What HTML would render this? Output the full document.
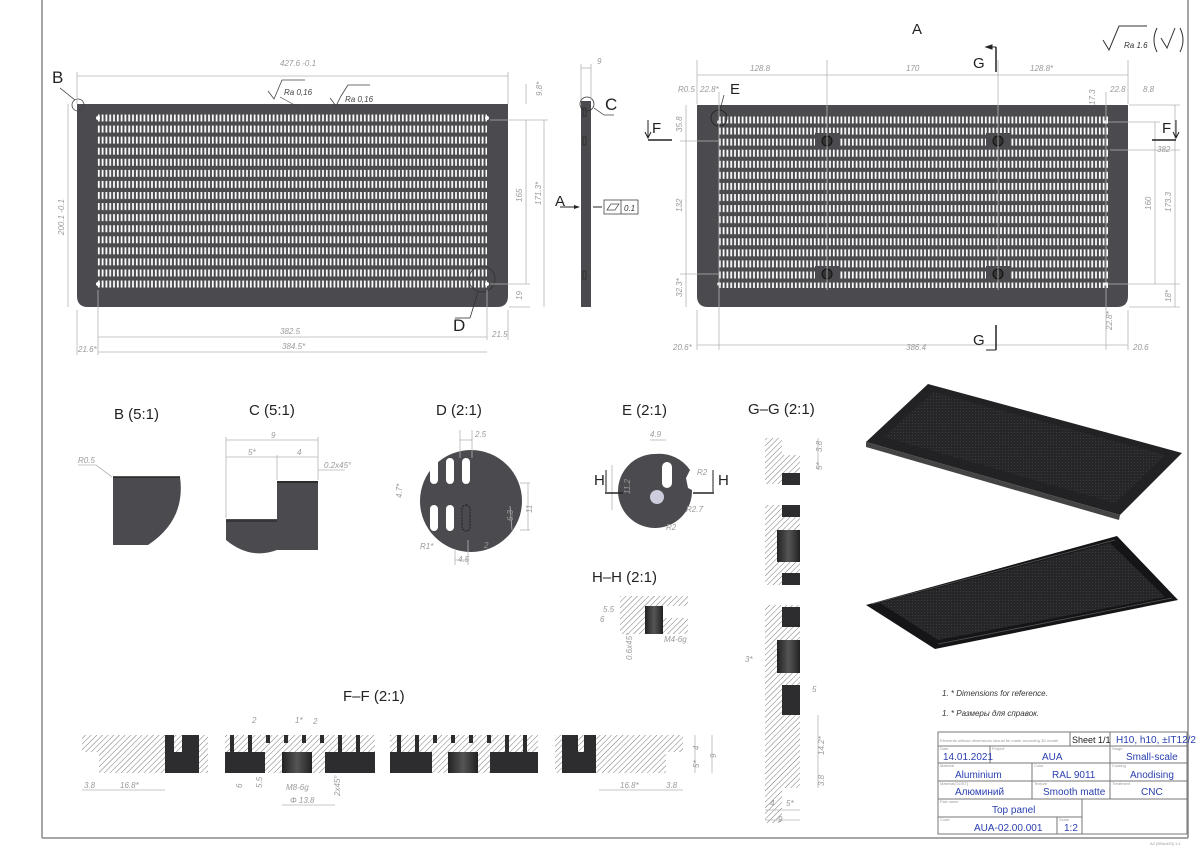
<!DOCTYPE html>
<html><head><meta charset="utf-8"><style>
html,body{margin:0;padding:0;background:#fff;}
svg{display:block;}
.d{stroke:#b4b4b4;stroke-width:0.8;fill:none;}
.t{font-family:"Liberation Sans",sans-serif;font-style:italic;font-size:8px;fill:#9a9a9a;}
.L{font-family:"Liberation Sans",sans-serif;font-size:17px;fill:#222;}
.H{font-family:"Liberation Sans",sans-serif;font-size:15px;fill:#222;}
.b{font-family:"Liberation Sans",sans-serif;font-size:10px;fill:#2a3fb0;}
.s{font-family:"Liberation Sans",sans-serif;font-size:4px;fill:#999;}
</style></head><body>
<svg width="1200" height="848" viewBox="0 0 1200 848" xmlns="http://www.w3.org/2000/svg">
<defs>
<pattern id="sl" patternUnits="userSpaceOnUse" x="97" y="114" width="3.8" height="11.07"><rect x="0.9" y="0.5" width="1.8" height="7" fill="#fff"/></pattern>
<pattern id="sr" patternUnits="userSpaceOnUse" x="718" y="116" width="3.8" height="11.07"><rect x="0.9" y="0.5" width="1.8" height="7" fill="#fff"/></pattern>
<pattern id="ht" patternUnits="userSpaceOnUse" width="4" height="4" patternTransform="rotate(45)"><rect width="4" height="4" fill="#fff"/><line x1="0" y1="0" x2="0" y2="4" stroke="#555" stroke-width="0.8"/></pattern>
<pattern id="dots" patternUnits="userSpaceOnUse" width="3" height="3"><rect width="3" height="3" fill="#262628"/><rect width="1" height="1" fill="#3c3c40"/></pattern>
<linearGradient id="cy" x1="0" x2="1"><stop offset="0" stop-color="#222"/><stop offset="0.5" stop-color="#555"/><stop offset="1" stop-color="#222"/></linearGradient>
</defs>
<!-- frame -->
<line x1="42" y1="0" x2="42" y2="838" stroke="#888" stroke-width="1.5"/>
<line x1="42" y1="838" x2="1188" y2="838" stroke="#888" stroke-width="1.5"/>
<line x1="1188" y1="0" x2="1188" y2="838" stroke="#888" stroke-width="1.5"/>
<text x="1150" y="845" class="s">A2 (594x420) 1:1</text>

<!-- LEFT VIEW -->
<path d="M77,104 H508 V296 Q508,307 497,307 H88 Q77,307 77,296 Z" fill="#4a4a4f"/>
<rect x="97" y="114" width="390" height="174" fill="url(#sl)"/>
<circle cx="98" cy="118" r="2" fill="#fff"/><circle cx="487" cy="118" r="2" fill="#fff"/>
<circle cx="98" cy="284" r="2" fill="#fff"/><circle cx="487" cy="284" r="2" fill="#fff"/>
<circle cx="78" cy="105" r="6" fill="none" stroke="#444" stroke-width="0.8"/>
<circle cx="482" cy="279" r="13" fill="none" stroke="#333" stroke-width="0.8"/>
<line x1="478" y1="292" x2="470" y2="318" stroke="#333" stroke-width="0.8"/><line x1="455" y1="318" x2="470" y2="318" stroke="#333" stroke-width="0.8"/>
<text x="52" y="83" class="L">B</text>
<text x="453" y="331" class="L">D</text>
<line x1="60" y1="88" x2="75" y2="100" stroke="#333" stroke-width="0.8"/>
<g class="d">
<line x1="77" y1="76" x2="508" y2="76"/><line x1="77" y1="72" x2="77" y2="104"/><line x1="508" y1="72" x2="508" y2="104"/>
<line x1="98" y1="337" x2="487" y2="337"/><line x1="98" y1="290" x2="98" y2="355"/><line x1="487" y1="290" x2="487" y2="340"/>
<line x1="98" y1="352" x2="487" y2="352"/><line x1="77" y1="310" x2="77" y2="355"/><line x1="508" y1="310" x2="508" y2="340"/>
<line x1="68" y1="104" x2="68" y2="307"/><line x1="509" y1="307" x2="530" y2="307"/>
<line x1="526" y1="84" x2="526" y2="104"/><line x1="526" y1="120" x2="526" y2="284"/><line x1="544" y1="120" x2="544" y2="307"/>
<line x1="490" y1="120" x2="548" y2="120"/><line x1="490" y1="284" x2="530" y2="284"/>
</g>
<text x="280" y="66" class="t">427.6 -0.1</text>
<text x="280" y="334" class="t">382.5</text>
<text x="282" y="349" class="t">384.5*</text>
<text x="78" y="352" class="t">21.6*</text>
<text x="492" y="337" class="t">21.5</text>
<text transform="translate(64,235) rotate(-90)" class="t">200.1 -0.1</text>
<text transform="translate(542,96) rotate(-90)" class="t">9.8*</text>
<text transform="translate(522,202) rotate(-90)" class="t">165</text>
<text transform="translate(541,205) rotate(-90)" class="t">171.3*</text>
<text transform="translate(522,300) rotate(-90)" class="t">19</text>
<path d="M268,91 L274,99 L282,80 H305" fill="none" stroke="#444" stroke-width="0.8"/>
<text x="284" y="95" class="t" style="fill:#444">Ra 0,16</text>
<line x1="280" y1="97" x2="300" y2="108" stroke="#444" stroke-width="0.6"/>
<path d="M330,98 L336,106 L341,96 L348,85 H370" fill="none" stroke="#444" stroke-width="0.8"/>
<text x="345" y="102" class="t" style="fill:#444">Ra 0,16</text>

<!-- SIDE VIEW -->
<rect x="581" y="101" width="10" height="206" fill="#4a4a4f"/>
<rect x="583" y="108" width="3" height="8" fill="none" stroke="#222" stroke-width="0.6"/>
<rect x="583" y="137" width="3" height="8" fill="none" stroke="#222" stroke-width="0.6"/>
<rect x="583" y="271" width="3" height="8" fill="none" stroke="#222" stroke-width="0.6"/>
<circle cx="587" cy="104" r="7" fill="none" stroke="#333" stroke-width="0.8"/>
<line x1="594" y1="108" x2="604" y2="115" stroke="#333" stroke-width="0.7"/><line x1="604" y1="115" x2="614" y2="115" stroke="#333" stroke-width="0.7"/>
<text x="605" y="110" class="L">C</text>
<g class="d"><line x1="581" y1="68" x2="591" y2="68"/><line x1="581" y1="64" x2="581" y2="100"/><line x1="591" y1="64" x2="591" y2="100"/></g>
<text x="597" y="64" class="t">9</text>
<text x="555" y="206" class="H">A</text>
<line x1="560" y1="207" x2="578" y2="207" stroke="#222"/><path d="M580,207 l-6,-2 v4z" fill="#222"/>
<line x1="593" y1="207" x2="602" y2="207" stroke="#222"/>
<rect x="604" y="200" width="34" height="14" fill="none" stroke="#444" stroke-width="0.8"/><line x1="621" y1="200" x2="621" y2="214" stroke="#444" stroke-width="0.8"/>
<path d="M607,210 l4,-6 h8 l-4,6z" fill="none" stroke="#444" stroke-width="0.7"/>
<text x="624" y="211" class="t" style="fill:#333">0.1</text>

<!-- RIGHT VIEW -->
<path d="M697,105 H1128 V296 Q1128,307 1117,307 H708 Q697,307 697,296 Z" fill="#4a4a4f"/>
<rect x="718" y="116" width="390" height="172" fill="url(#sr)"/>
<g fill="#4a4a4f"><rect x="815" y="133" width="25" height="16"/><rect x="986" y="133" width="25" height="16"/><rect x="815" y="266" width="25" height="16"/><rect x="986" y="266" width="25" height="16"/></g>
<g fill="#333" stroke="#111" stroke-width="1"><circle cx="827" cy="141" r="5"/><circle cx="998" cy="141" r="5"/><circle cx="827" cy="274" r="5"/><circle cx="998" cy="274" r="5"/></g>
<g fill="#fff"><circle cx="719" cy="122" r="1.8"/><circle cx="1106" cy="122" r="1.8"/><circle cx="719" cy="284" r="1.8"/><circle cx="1106" cy="284" r="1.8"/></g>
<circle cx="719" cy="118" r="8" fill="none" stroke="#222" stroke-width="0.8"/>
<g class="d">
<line x1="827" y1="60" x2="827" y2="290"/><line x1="998" y1="60" x2="998" y2="290"/>
<line x1="697" y1="75" x2="1128" y2="75"/><line x1="697" y1="60" x2="697" y2="104"/><line x1="1128" y1="60" x2="1128" y2="104"/>
<line x1="719" y1="92" x2="719" y2="350"/><line x1="1106" y1="92" x2="1106" y2="350"/>
<line x1="697" y1="345" x2="1128" y2="345"/><line x1="697" y1="310" x2="697" y2="350"/><line x1="1128" y1="310" x2="1128" y2="350"/>
<line x1="686" y1="105" x2="686" y2="307"/><line x1="680" y1="141" x2="720" y2="141"/><line x1="680" y1="274" x2="720" y2="274"/>
<line x1="1155" y1="122" x2="1155" y2="284"/><line x1="1175" y1="105" x2="1175" y2="307"/><line x1="1108" y1="284" x2="1180" y2="284"/><line x1="1108" y1="122" x2="1160" y2="122"/>
<line x1="1129" y1="105" x2="1180" y2="105"/><line x1="1129" y1="307" x2="1180" y2="307"/>
<line x1="1110" y1="150" x2="1180" y2="150"/>
</g>
<text x="750" y="71" class="t">128.8</text><text x="906" y="71" class="t">170</text><text x="1030" y="71" class="t">128.8*</text>
<text x="678" y="92" class="t">R0.5</text><text x="700" y="92" class="t">22.8*</text><text x="1110" y="92" class="t">22.8</text><text x="1143" y="92" class="t">8.8</text>
<text x="1157" y="152" class="t">382</text>
<text transform="translate(1151,210) rotate(-90)" class="t">160</text>
<text transform="translate(1171,212) rotate(-90)" class="t">173.3</text>
<text transform="translate(1171,302) rotate(-90)" class="t">18*</text>
<text transform="translate(1095,105) rotate(-90)" class="t">17.3</text>
<text transform="translate(682,132) rotate(-90)" class="t">35.8</text>
<text transform="translate(682,212) rotate(-90)" class="t">132</text>
<text transform="translate(682,297) rotate(-90)" class="t">32.3*</text>
<text transform="translate(1112,330) rotate(-90)" class="t">22.8*</text>
<text x="673" y="350" class="t">20.6*</text><text x="906" y="350" class="t">386.4</text><text x="1133" y="350" class="t">20.6</text>
<text x="912" y="34" class="H">A</text>
<text x="730" y="94" class="H">E</text>
<line x1="724" y1="95" x2="720" y2="110" stroke="#333" stroke-width="0.7"/>
<text x="652" y="133" class="H">F</text><path d="M648,120 v18 M645,132 l3,6 l3,-6" stroke="#222" fill="none"/><line x1="648" y1="140" x2="672" y2="140" stroke="#222" stroke-width="1.5"/>
<text x="1162" y="133" class="H">F</text><path d="M1176,120 v18 M1173,132 l3,6 l3,-6" stroke="#222" fill="none"/><line x1="1152" y1="140" x2="1176" y2="140" stroke="#222" stroke-width="1.5"/>
<text x="973" y="68" class="H">G</text><line x1="996" y1="47" x2="996" y2="72" stroke="#222" stroke-width="1.5"/><path d="M986,47 h10 M986,47 l6,-2 v4z" stroke="#222" fill="#222"/>
<text x="973" y="345" class="H">G</text><line x1="996" y1="325" x2="996" y2="350" stroke="#222" stroke-width="1.5"/><path d="M986,350 h10" stroke="#222"/>
<!-- roughness -->
<path d="M1103,40 l6,10 l10,-24 h28" fill="none" stroke="#333" stroke-width="1"/>
<text x="1124" y="48" class="t" style="fill:#333">Ra 1.6</text>
<path d="M1157,28 q-6,12 0,24 M1180,28 q6,12 0,24" fill="none" stroke="#333" stroke-width="1"/>
<path d="M1161,38 l6,10 l8,-20" fill="none" stroke="#333" stroke-width="1"/>

<!-- DETAIL B -->
<text x="114" y="419" class="H">B (5:1)</text>
<path d="M113,477 H180 Q186,520 148,545 H113 Z" fill="#4a4a4f"/>
<line x1="113" y1="477" x2="180" y2="477" stroke="#222" stroke-width="1.5"/>
<line x1="78" y1="465" x2="96" y2="465" class="d"/><line x1="96" y1="465" x2="112" y2="477" class="d"/>
<text x="78" y="463" class="t">R0.5</text>
<!-- DETAIL C -->
<text x="249" y="415" class="H">C (5:1)</text>
<path d="M226,519 H277 V481 H318 V550 H277 Q250,560 226,540 Z" fill="#4a4a4f"/>
<line x1="226" y1="521" x2="277" y2="521" stroke="#222"/><line x1="277" y1="482" x2="318" y2="482" stroke="#222" stroke-width="1.5"/>
<g class="d"><line x1="226" y1="440" x2="318" y2="440"/><line x1="226" y1="457" x2="318" y2="457"/><line x1="226" y1="437" x2="226" y2="518"/><line x1="318" y1="437" x2="318" y2="480"/><line x1="277" y1="455" x2="277" y2="480"/><line x1="318" y1="470" x2="345" y2="470"/></g>
<text x="271" y="438" class="t">9</text><text x="248" y="455" class="t">5*</text><text x="297" y="455" class="t">4</text><text x="324" y="468" class="t">0.2x45°</text>
<!-- DETAIL D -->
<text x="436" y="415" class="H">D (2:1)</text>
<circle cx="471" cy="501" r="51" fill="#4a4a4f"/>
<g fill="#fff"><rect x="430" y="458" width="8" height="26" rx="4"/><rect x="446" y="458" width="8" height="26" rx="4"/><rect x="462" y="458" width="8" height="26" rx="4"/><rect x="430" y="505" width="8" height="26" rx="4"/><rect x="446" y="505" width="8" height="26" rx="4"/></g>
<rect x="462" y="505" width="8" height="26" rx="4" fill="none" stroke="#222" stroke-dasharray="2,1"/>
<g class="d"><line x1="460" y1="440" x2="472" y2="440"/><line x1="460" y1="430" x2="460" y2="458"/><line x1="472" y1="430" x2="472" y2="458"/><line x1="520" y1="483" x2="530" y2="483"/><line x1="520" y1="530" x2="530" y2="530"/><line x1="528" y1="483" x2="528" y2="530"/><line x1="510" y1="506" x2="512" y2="530"/><line x1="455" y1="550" x2="455" y2="565"/><line x1="468" y1="540" x2="468" y2="565"/><line x1="455" y1="560" x2="468" y2="560"/></g>
<text x="475" y="437" class="t">2.5</text><text x="420" y="549" class="t">R1*</text><text x="484" y="548" class="t">2</text><text x="458" y="562" class="t">4.5</text>
<text transform="translate(532,513) rotate(-90)" class="t">11</text><text transform="translate(513,521) rotate(-90)" class="t">6.3</text><text transform="translate(402,498) rotate(-90)" class="t">4.7*</text>
<!-- DETAIL E -->
<text x="622" y="415" class="H">E (2:1)</text>
<path d="M655,454 A37,37 0 1,0 692,490 L688,488 L686,478 L690,470 A37,37 0 0,0 655,454Z" fill="#4a4a4f"/>
<rect x="662" y="462" width="10" height="26" rx="5" fill="#fff"/>
<circle cx="657" cy="497" r="7" fill="#ccd"/>
<g class="d"><line x1="650" y1="440" x2="666" y2="440"/><line x1="612" y1="465" x2="612" y2="510"/></g>
<text x="650" y="437" class="t">4.9</text><text x="697" y="475" class="t">R2</text><text x="686" y="512" class="t">R2.7</text><text x="666" y="530" class="t">R2</text>
<text transform="translate(630,494) rotate(-90)" class="t">11.2</text>
<text x="594" y="485" class="H">H</text><path d="M606,470 v22" stroke="#222"/><line x1="605" y1="493" x2="623" y2="493" stroke="#222" stroke-width="1.5"/>
<text x="718" y="485" class="H">H</text><path d="M713,470 v22" stroke="#222"/><line x1="693" y1="493" x2="714" y2="493" stroke="#222" stroke-width="1.5"/>
<!-- H-H -->
<text x="592" y="582" class="H">H–H (2:1)</text>
<rect x="620" y="596" width="68" height="38" fill="url(#ht)"/>
<rect x="645" y="606" width="18" height="28" fill="url(#cy)"/>
<rect x="663" y="606" width="25" height="12" fill="#fff"/>
<text x="600" y="622" class="t">6</text><text x="603" y="612" class="t">5.5</text><text x="664" y="642" class="t">M4-6g</text>
<text transform="translate(632,660) rotate(-90)" class="t">0.6x45°</text>

<!-- G-G -->
<text x="748" y="414" class="H">G–G (2:1)</text>
<path d="M765,438 H782 V455 H800 V484 H765Z" fill="url(#ht)"/>
<rect x="782" y="473" width="18" height="12" fill="#2d2d30"/>
<path d="M765,505 H800 V585 H765Z" fill="url(#ht)"/>
<rect x="782" y="505" width="18" height="12" fill="#2d2d30"/><rect x="777" y="530" width="23" height="32" fill="url(#cy)"/><rect x="782" y="573" width="18" height="12" fill="#2d2d30"/>
<path d="M765,605 H800 V788 H782 V823 H765Z" fill="url(#ht)"/>
<rect x="782" y="607" width="18" height="20" fill="#2d2d30"/><rect x="777" y="640" width="23" height="33" fill="url(#cy)"/><rect x="782" y="685" width="18" height="30" fill="#2d2d30"/>
<g class="d"><line x1="765" y1="810" x2="800" y2="810"/><line x1="765" y1="820" x2="800" y2="820"/><line x1="818" y1="715" x2="818" y2="788"/><line x1="818" y1="438" x2="818" y2="470"/></g>
<text x="770" y="806" class="t">4</text><text x="786" y="806" class="t">5*</text><text x="778" y="822" class="t">9</text><text x="745" y="662" class="t">3*</text><text x="812" y="692" class="t">5</text>
<text transform="translate(824,755) rotate(-90)" class="t">14.2*</text><text transform="translate(824,786) rotate(-90)" class="t">3.8</text>
<text transform="translate(822,452) rotate(-90)" class="t">3.8</text><text transform="translate(822,470) rotate(-90)" class="t">5*</text>

<!-- F-F -->
<text x="343" y="701" class="H">F–F (2:1)</text>
<g>
<rect x="82" y="735" width="126" height="38" fill="url(#ht)"/><rect x="82" y="752" width="17" height="21" fill="#fff"/>
<rect x="165" y="735" width="34" height="38" fill="#2d2d30"/><rect x="174" y="735" width="8" height="17" fill="url(#ht)"/>
<rect x="225" y="735" width="150" height="38" fill="url(#ht)"/>
<rect x="225" y="752" width="40" height="21" fill="#2d2d30"/><rect x="325" y="752" width="50" height="21" fill="#2d2d30"/>
<rect x="282" y="752" width="30" height="21" fill="url(#cy)"/>
<rect x="390" y="735" width="148" height="38" fill="url(#ht)"/>
<rect x="390" y="752" width="42" height="21" fill="#2d2d30"/><rect x="490" y="752" width="48" height="21" fill="#2d2d30"/>
<rect x="448" y="752" width="30" height="21" fill="url(#cy)"/>
<rect x="555" y="735" width="128" height="38" fill="url(#ht)"/><rect x="666" y="752" width="17" height="21" fill="#fff"/>
<rect x="562" y="735" width="34" height="38" fill="#2d2d30"/><rect x="578" y="735" width="6" height="17" fill="url(#ht)"/>
</g>
<g fill="#2d2d30">
<rect x="230" y="735" width="4" height="17"/><rect x="248" y="735" width="4" height="17"/><rect x="266" y="735" width="4" height="8"/><rect x="284" y="735" width="4" height="8"/><rect x="302" y="735" width="4" height="8"/><rect x="320" y="735" width="4" height="8"/><rect x="338" y="735" width="4" height="17"/><rect x="356" y="735" width="4" height="17"/>
<rect x="397" y="735" width="4" height="17"/><rect x="415" y="735" width="4" height="17"/><rect x="433" y="735" width="4" height="8"/><rect x="451" y="735" width="4" height="8"/><rect x="469" y="735" width="4" height="8"/><rect x="487" y="735" width="4" height="8"/><rect x="505" y="735" width="4" height="17"/><rect x="523" y="735" width="4" height="17"/>
</g>
<g class="d"><line x1="82" y1="790" x2="165" y2="790"/><line x1="599" y1="790" x2="683" y2="790"/><line x1="282" y1="805" x2="335" y2="805"/><line x1="695" y1="735" x2="695" y2="773"/><line x1="712" y1="735" x2="712" y2="773"/></g>
<text x="84" y="788" class="t">3.8</text><text x="120" y="788" class="t">16.8*</text><text x="620" y="788" class="t">16.8*</text><text x="666" y="788" class="t">3.8</text>
<text x="286" y="790" class="t">M8-6g</text><text x="290" y="803" class="t">Φ 13.8</text><text x="252" y="723" class="t">2</text><text x="295" y="723" class="t">1*</text><text x="313" y="724" class="t">2</text>
<text transform="translate(716,758) rotate(-90)" class="t">9</text><text transform="translate(699,750) rotate(-90)" class="t">4</text><text transform="translate(699,768) rotate(-90)" class="t">5*</text>
<text transform="translate(242,788) rotate(-90)" class="t">6</text><text transform="translate(262,788) rotate(-90)" class="t">5.5</text><text transform="translate(340,796) rotate(-90)" class="t">2x45°</text>

<!-- 3D renders -->
<polygon points="866,442 928,384 1182,453 1120,515" fill="#222224"/>
<polygon points="884,437 933,392 1165,455 1115,503" fill="url(#dots)"/>
<polygon points="866,442 1120,515 1119,520 866,447" fill="#444"/>
<polygon points="866,605 1117,536 1178,600 935,649" fill="#151517"/>
<polygon points="880,603 1110,543 1165,597 938,640" fill="url(#dots)"/>
<line x1="872" y1="604" x2="1115" y2="540" stroke="#555" stroke-width="0.8"/>
<line x1="938" y1="644" x2="1172" y2="598" stroke="#555" stroke-width="0.8"/>

<!-- notes -->
<text x="942" y="696" class="t" style="fill:#333;font-size:8px">1.  * Dimensions for reference.</text>
<text x="942" y="716" class="t" style="fill:#333;font-size:8px">1.  * Размеры для справок.</text>

<!-- title block -->
<g stroke="#777" stroke-width="1" fill="none">
<rect x="938" y="732" width="249" height="102"/>
<line x1="938" y1="746" x2="1187" y2="746"/><line x1="938" y1="763" x2="1187" y2="763"/><line x1="938" y1="781" x2="1187" y2="781"/><line x1="938" y1="799" x2="1187" y2="799"/><line x1="938" y1="817" x2="1082" y2="817"/>
<line x1="1070" y1="732" x2="1070" y2="746"/><line x1="1110" y1="732" x2="1110" y2="799"/>
<line x1="990" y1="746" x2="990" y2="763"/><line x1="1032" y1="763" x2="1032" y2="799"/>
<line x1="1082" y1="799" x2="1082" y2="834"/><line x1="1057" y1="817" x2="1057" y2="834"/>
</g>
<text x="940" y="742" class="s">Elements without dimensions should be made according 3D model</text>
<text x="1072" y="743" style="font-family:'Liberation Sans',sans-serif;font-size:9px;fill:#222">Sheet 1/1</text>
<text x="1116" y="743" class="b">H10, h10, ±IT12/2</text>
<text x="940" y="750" class="s">Date</text><text x="992" y="750" class="s">Project</text><text x="1112" y="750" class="s">Stage</text>
<text x="943" y="760" class="b">14.01.2021</text><text x="1042" y="760" class="b">AUA</text><text x="1126" y="760" class="b">Small-scale</text>
<text x="940" y="767" class="s">Material</text><text x="1034" y="767" class="s">Color</text><text x="1112" y="767" class="s">Coating</text>
<text x="955" y="778" class="b">Aluminium</text><text x="1052" y="778" class="b">RAL 9011</text><text x="1130" y="778" class="b">Anodising</text>
<text x="940" y="785" class="s">Material(GOST)</text><text x="1034" y="785" class="s">Texture</text><text x="1112" y="785" class="s">Treatment</text>
<text x="955" y="795" class="b" style="font-family:'Liberation Sans','Noto Sans CJK SC',sans-serif">Алюминий</text><text x="1043" y="795" class="b">Smooth matte</text><text x="1141" y="795" class="b">CNC</text>
<text x="940" y="803" class="s">Part name</text>
<text x="992" y="813" class="b">Top panel</text>
<text x="940" y="821" class="s">Code</text><text x="1059" y="821" class="s">Scale</text>
<text x="974" y="831" class="b">AUA-02.00.001</text><text x="1064" y="831" class="b">1:2</text>
</svg>
</body></html>
